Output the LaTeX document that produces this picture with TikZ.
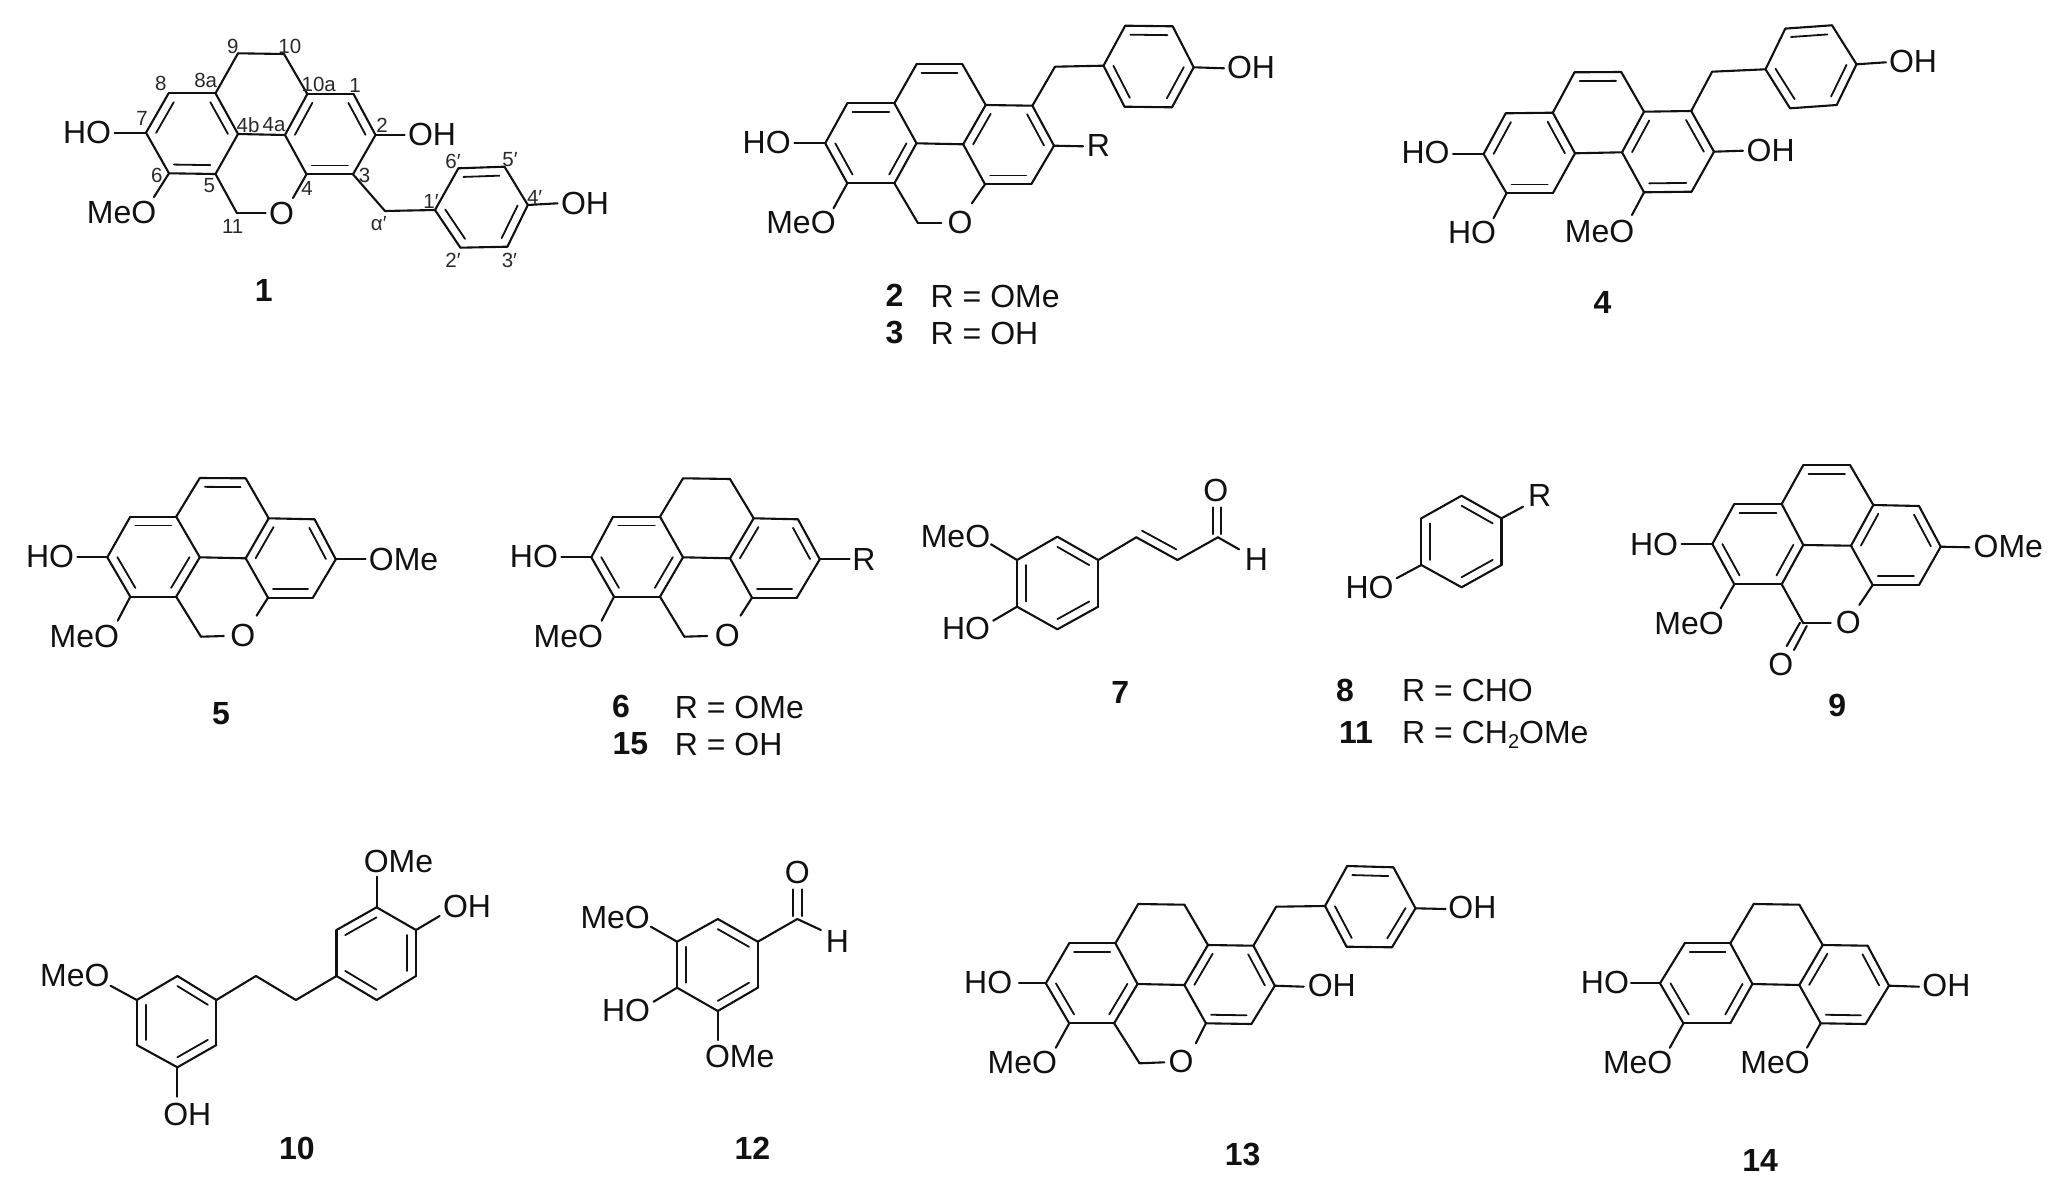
\documentclass[tikz,border=0pt]{standalone}
\usepackage{fontspec}
\setmainfont{Liberation Sans}
\usetikzlibrary{calc}
\definecolor{ink}{HTML}{111111}
\tikzset{
  bond/.style={draw=ink,line width=2.1pt,line cap=round,line join=round},
  innerbond/.style={draw=ink,line width=1.8pt,line cap=round},
  lab/.style={inner sep=0pt,text=ink,font=\fontsize{32}{32}\selectfont},
  sml/.style={inner sep=0pt,text=ink!90,font=\fontsize{20.5}{20.5}\selectfont},
  cnum/.style={inner sep=0pt,text=ink,font=\fontsize{32}{32}\selectfont\bfseries},
  rtxt/.style={inner sep=0pt,anchor=base west,text=ink,font=\fontsize{32}{32}\selectfont}
}
\newcommand{\atoms}[2]{\foreach \n/\xx/\yy in {#2}{\coordinate (#1\n) at (\xx,\yy);}}
\newcommand{\bonds}[2]{\foreach \u/\v in {#2}{\draw[bond] (#1\u) -- (#1\v);}}
\newcommand{\dbls}[4]{\coordinate (ctr) at ($(#1#2)!.5!(#1#3)$);
  \foreach \u/\v in {#4}{\draw[innerbond] ($(#1\u)!.22!(ctr)$) -- ($(#1\v)!.22!(ctr)$);}}
% fused tetracyclic skeleton; #2: double bonds of ring A
\newcommand{\skel}[2]{\bonds{#1}{a1/a2,a2/a3,a3/a4,a4/a5,a5/a6,a6/a1,a2/t1,t1/t2,t2/c1,c1/c2,c2/c3,c3/c4,c4/c5,c5/c6,c6/c1,a3/c6}
  \dbls{#1}{a1}{a4}{#2}\dbls{#1}{c1}{c4}{c1/c6,c2/c3,c4/c5}}
\newcommand{\benz}[1]{\bonds{#1}{r1/r2,r2/r3,r3/r4,r4/r5,r5/r6,r6/r1}\dbls{#1}{r1}{r4}{r1/r2,r3/r4,r5/r6}}
\begin{document}
\begin{tikzpicture}[x=1pt,y=-1pt]
\useasboundingbox (0,0) rectangle (2058,1185);
% ---------- 1
\atoms{A}{a1/168.6/93.3,a2/215.5/93.3,a3/238/134,a4/215.5/174,a5/169/173.3,a6/146/132.7,t1/238/53.3,t2/284/54,c1/307.3/94,c2/353.5/94,c3/375.5/135,c4/353/174.3,c5/306.5/174.3,c6/285/135,k/237/213.3,ke/265.7/213.3,oe/293/198,m/385/211,r1/435/210,r2/460.4/247.7,r3/507.4/246.7,r4/527.8/205,r5/504.5/166.7,r6/458.4/168.3,e1/557.6/203.3,e2/404.5/135,e3/114.7/132.7,e4/154/197}
\skel{A}{a1/a6,a2/a3,a4/a5}
\benz{A}
\bonds{A}{a4/k,k/ke,c5/oe,c4/m,m/r1,r4/e1,c3/e2,a6/e3,a5/e4}
\node[lab] (A1) at (585,203) {OH};
\node[lab] (A2) at (432,134) {OH};
\node[lab] (A3) at (87,132) {HO};
\node[lab] (A4) at (121.6,212.3) {MeO};
\node[lab] (A5) at (281.6,213.3) {O};
\node[cnum] (A6) at (263.7,290) {1};
\node[sml] (n9) at (232.7,46.7) {9};
\node[sml] (n10) at (289.8,46) {10};
\node[sml] (n8) at (160.8,83.3) {8};
\node[sml] (n8a) at (205.7,80) {8a};
\node[sml] (n10a) at (318.8,84.3) {10a};
\node[sml] (n1) at (355,85) {1};
\node[sml] (n7) at (142,118.3) {7};
\node[sml] (n4b) at (248,125) {4b};
\node[sml] (n4a) at (274,125) {4a};
\node[sml] (n2) at (382,125) {2};
\node[sml] (n6) at (156.7,175.7) {6};
\node[sml] (n5) at (209.4,185.7) {5};
\node[sml] (n3) at (364.5,175) {3};
\node[sml] (n4) at (307,188) {4};
\node[sml] (n11) at (232.7,226.7) {11};
\node[sml] (nal) at (378.8,223.3) {α′};
\node[sml] (n1p) at (431,201.7) {1′};
\node[sml] (n6p) at (453,161.7) {6′};
\node[sml] (n5p) at (510,160) {5′};
\node[sml] (n4p) at (534.7,197.3) {4′};
\node[sml] (n2p) at (453,260) {2′};
\node[sml] (n3p) at (509.4,260) {3′};
% ---------- 2/3
\atoms{B}{a1/847.3/103.3,a2/894.4/103.3,a3/916.5/143.3,a4/894.4/183.3,a5/847.3/183.3,a6/825.2/143.3,t1/916.5/64.3,t2/962.4/64.3,c1/985.7/105,c2/1032.4/105.7,c3/1054/145.7,c4/1031.2/184.3,c5/985/184.3,c6/963.2/144.3,k/917.7/222.7,ke/941.4/222.7,oe/971.9/203.3,m/1055/66.7,r1/1103.5/65.7,r2/1124.5/106.7,r3/1172/107.3,r4/1193.7/67.3,r5/1172.7/26.3,r6/1125.2/25.7,e1/1224/68.3,e2/1083/146.3,e3/794.3/143.3,e4/833.5/208.3}
\skel{B}{a1/a2,a3/a4,a5/a6}
\dbls{B}{t1}{c6}{t1/t2}
\benz{B}
\bonds{B}{a4/k,k/ke,c5/oe,c2/m,m/r1,r4/e1,c3/e2,a6/e3,a5/e4}
\node[lab] (B1) at (1251,67.7) {OH};
\node[lab] (B2) at (1098.4,145.7) {R};
\node[lab] (B3) at (766.7,142.7) {HO};
\node[lab] (B4) at (801,222.3) {MeO};
\node[lab] (B5) at (960,222.3) {O};
\node[cnum] (B6) at (894.4,295.7) {2};
\node[rtxt] (B7) at (930.5,307) {R = OMe};
\node[cnum] (B8) at (894.4,332.7) {3};
\node[rtxt] (B9) at (930.5,344) {R = OH};
% ---------- 4
\atoms{C}{a1/1505.7/113.3,a2/1552.8/112.7,a3/1575/153.3,a4/1552.8/193.3,a5/1506.5/193.3,a6/1483.6/154,t1/1574.5/72.3,t2/1621.2/72,c1/1644/111.7,c2/1691.2/111,c3/1714/151.7,c4/1691.6/191.7,c5/1644/192.3,c6/1622/152.3,m/1712.1/71.7,r1/1765.5/69.3,r2/1790/108.3,r3/1836.7/105,r4/1856.5/64.3,r5/1832/25.3,r6/1785.3/28.6,e1/1886/62.3,e2/1743/150.7,e3/1453/154,e4/1493.5/218.3,e5/1632/215}
\skel{C}{a1/a6,a2/a3,a4/a5}
\dbls{C}{t1}{c6}{t1/t2}
\benz{C}
\bonds{C}{c2/m,m/r1,r4/e1,c3/e2,a6/e3,a5/e4,c5/e5}
\node[lab] (C1) at (1913,61) {OH};
\node[lab] (C2) at (1770.7,150) {OH};
\node[lab] (C3) at (1425.5,152.7) {HO};
\node[lab] (C4) at (1472,232.3) {HO};
\node[lab] (C5) at (1599.5,231) {MeO};
\node[cnum] (C6) at (1602.6,302.3) {4};
% ---------- 5
\atoms{D}{a1/130.3/516.7,a2/176.2/516.7,a3/199.8/557.3,a4/176.2/596.7,a5/130.3/596.7,a6/107.3/557.3,t1/199.8/478,t2/245.7/478.3,c1/268.7/518.3,c2/314.6/519.3,c3/335.8/559.3,c4/312.9/597.7,c5/268/597.7,c6/245.7/558.3,k/201/636.7,ke/223.9/636,oe/256.6/615.7,e1/365.7/559.3,e3/77.5/557.3,e4/117.7/620.7}
\skel{D}{a1/a2,a3/a4,a5/a6}
\dbls{D}{t1}{c6}{t1/t2}
\bonds{D}{a4/k,k/ke,c5/oe,c3/e1,a6/e3,a5/e4}
\node[lab] (D1) at (403.6,559.3) {OMe};
\node[lab] (D2) at (50,556.7) {HO};
\node[lab] (D3) at (84.4,636) {MeO};
\node[lab] (D4) at (242.8,635.7) {O};
\node[cnum] (D5) at (221,713.3) {5};
% ---------- 6/15
\atoms{E}{a1/613/516.7,a2/660/516.7,a3/683/557.3,a4/660/596.7,a5/614/596.7,a6/591.3/557.3,t1/683/478.3,t2/730/479,c1/753.7/518.3,c2/798/519.3,c3/819.8/559.3,c4/796.8/597.7,c5/752/597.7,c6/730/558.3,k/684.3/636.7,ke/707.2/636,oe/740.5/615.7,e1/849.6/559.3,e3/561.4/557.3,e4/601.6/620.7}
\skel{E}{a1/a2,a3/a4,a5/a6}
\bonds{E}{a4/k,k/ke,c5/oe,c3/e1,a6/e3,a5/e4}
\node[lab] (E1) at (864,559.3) {R};
\node[lab] (E2) at (533.9,556.7) {HO};
\node[lab] (E3) at (568.3,636) {MeO};
\node[lab] (E4) at (727.3,635.7) {O};
\node[cnum] (E5) at (621,706.7) {6};
\node[rtxt] (E6) at (674.7,718) {R = OMe};
\node[cnum] (E7) at (630.3,744) {15};
\node[rtxt] (E8) at (674.7,755.3) {R = OH};
% ---------- 7
\atoms{F}{r1/1057.4/536.7,r2/1098.2/560,r3/1098.2/606.7,r4/1057.4/629.3,r5/1017/606.7,r6/1017/560,v1/1136.3/537.3,v2/1177.5/560,v3/1217.9/537.3,w1/1142/530.7,w2/1176.2/549.3,o1/1213.1/507.3,o2/1213.1/534,o3/1221.3/507.3,o4/1221.3/534,e1/1239/549.3,e2/991/544.3,e3/993.2/620.7}
\bonds{F}{r1/r2,r2/r3,r3/r4,r4/r5,r5/r6,r6/r1,r2/v1,v1/v2,v2/v3,v3/e1,o1/o2,o3/o4,r6/e2,r5/e3}
\dbls{F}{r1}{r4}{r1/r2,r3/r4,r5/r6}
\draw[innerbond] (Fw1) -- (Fw2);
\node[lab] (F1) at (1215.7,490.7) {O};
\node[lab] (F2) at (1256.5,559.3) {H};
\node[lab] (F3) at (955.5,536) {MeO};
\node[lab] (F4) at (966,628.3) {HO};
\node[cnum] (F5) at (1120.3,692.7) {7};
% ---------- 8/11
\atoms{G}{r1/1461.6/495.7,r2/1501.5/518.3,r3/1501.5/565,r4/1461.6/587.3,r5/1421.3/565,r6/1421.3/518.3,e1/1523/506.7,e2/1396.5/578.3}
\bonds{G}{r1/r2,r2/r3,r3/r4,r4/r5,r5/r6,r6/r1,r2/e1,r5/e2}
\dbls{G}{r1}{r4}{r1/r2,r3/r4,r5/r6}
\node[lab] (G1) at (1539.6,495) {R};
\node[lab] (G2) at (1369.6,587.3) {HO};
\node[cnum] (G3) at (1345,690) {8};
\node[rtxt] (G4) at (1402,701.3) {R = CHO};
\node[cnum] (G5) at (1356,732.3) {11};
\node[rtxt] (G6) at (1402,743.6) {R = CH\raisebox{-5pt}{\fontsize{20}{20}\selectfont 2}OMe};
% ---------- 9
\atoms{H}{a1/1734.3/504,a2/1781.7/504,a3/1803.3/545,a4/1781.7/584.3,a5/1734.3/584.3,a6/1712.3/544,t1/1803.3/465,t2/1850/465,c1/1873.3/505,c2/1919/506,c3/1940.7/546.7,c4/1919/585,c5/1872.7/585,c6/1851/545.7,k/1803.3/623.3,ke/1830.7/623.3,oe/1859.3/605,q1/1800/622.7,q2/1786.7/646,q3/1806.7/626,q4/1794/650,e1/1681.7/544,e2/1969.3/547.3,e3/1720.7/608.3}
\skel{H}{a1/a2,a3/a4,a5/a6}
\dbls{H}{t1}{c6}{t1/t2}
\bonds{H}{a4/k,k/ke,c5/oe,q1/q2,q3/q4,a6/e1,c3/e2,a5/e3}
\node[lab] (H1) at (1848.3,622.7) {O};
\node[lab] (H2) at (1780.7,664) {O};
\node[lab] (H3) at (1654,544) {HO};
\node[lab] (H4) at (2008.3,546.7) {OMe};
\node[lab] (H5) at (1689,623.3) {MeO};
\node[cnum] (H6) at (1837.3,705.7) {9};
% ---------- 10
\atoms{I}{r1/177.4/976,r2/216.4/1000,r3/216.4/1045,r4/177.4/1067.3,r5/136.8/1045,r6/136.8/1000,v1/255.9/976,v2/295.9/1000,s1/336.5/976,s2/336.5/930,s3/376.6/907.3,s4/416/930,s5/416/976,s6/376.6/1000,e1/376.6/876.7,e2/439.6/916,e3/110.5/985.7,e4/177.4/1096.7}
\bonds{I}{r1/r2,r2/r3,r3/r4,r4/r5,r5/r6,r6/r1,r2/v1,v1/v2,v2/s1,s1/s2,s2/s3,s3/s4,s4/s5,s5/s6,s6/s1,s3/e1,s4/e2,r6/e3,r4/e4}
\dbls{I}{r1}{r4}{r1/r2,r3/r4,r5/r6}
\dbls{I}{s1}{s4}{s2/s3,s4/s5,s6/s1}
\node[lab] (I1) at (398.5,861.7) {OMe};
\node[lab] (I2) at (467,906) {OH};
\node[lab] (I3) at (74.9,975.7) {MeO};
\node[lab] (I4) at (187.3,1114) {OH};
\node[cnum] (I5) at (297,1148.3) {10};
% ---------- 12
\atoms{J}{r1/717.8/919,r2/757.8/941.7,r3/757.8/987.7,r4/717.8/1011,r5/677.1/987.7,r6/677.1/941.7,v1/797.3/919,o1/793.4/889.3,o2/793.4/916,o3/801.7/889.3,o4/801.7/916,e1/820.9/930,e2/650.8/926.7,e3/653.6/1001.7,e4/717.8/1040}
\bonds{J}{r1/r2,r2/r3,r3/r4,r4/r5,r5/r6,r6/r1,r2/v1,v1/e1,o1/o2,o3/o4,r6/e2,r5/e3,r4/e4}
\dbls{J}{r1}{r4}{r1/r2,r3/r4,r5/r6}
\node[lab] (J1) at (797.3,872.3) {O};
\node[lab] (J2) at (837.3,941.7) {H};
\node[lab] (J3) at (615.2,917.3) {MeO};
\node[lab] (J4) at (626,1010) {HO};
\node[lab] (J5) at (739.7,1056.7) {OMe};
\node[cnum] (J6) at (752.3,1148.3) {12};
% ---------- 13
\atoms{K}{a1/1069.2/943.3,a2/1115.4/943.3,a3/1137.5/984,a4/1114.1/1023.3,a5/1069.2/1023.3,a6/1045.8/983.3,t1/1138.2/904,t2/1184.4/904.7,c1/1207.9/945,c2/1253.4/945.7,c3/1274.8/985.7,c4/1251.4/1024,c5/1205.9/1023.3,c6/1184.4/985,k/1139.6/1063.3,ke/1164.3/1062.3,oe/1195.8/1043.3,m/1276.2/906.7,r1/1325/906,r2/1346.5/946.7,r3/1392/947.3,r4/1415.5/908.3,r5/1393.4/867.3,r6/1347.2/866,e1/1445.6/909,e2/1303.7/986.7,e3/1019/983.3,e4/1055.8/1047.7}
\skel{K}{a1/a2,a3/a4,a5/a6}
\benz{K}
\bonds{K}{a4/k,k/ke,c5/oe,c2/m,m/r1,r4/e1,c3/e2,a6/e3,a5/e4}
\node[lab] (K1) at (1472.4,907.3) {OH};
\node[lab] (K2) at (1331.8,985.7) {OH};
\node[lab] (K3) at (988.2,982.3) {HO};
\node[lab] (K4) at (1022.3,1062.7) {MeO};
\node[lab] (K5) at (1181,1061.7) {O};
\node[cnum] (K6) at (1242.7,1154.3) {13};
% ---------- 14
\atoms{L}{a1/1684.7/943.3,a2/1730.3/943.3,a3/1752.4/984,a4/1730.3/1023.3,a5/1683.4/1023.3,a6/1660/983.3,t1/1753.7/904,t2/1799.3/904.7,c1/1822.7/945,c2/1867.6/945.7,c3/1889/985.7,c4/1865.6/1024,c5/1820.7/1023.3,c6/1799.3/985,e1/1919/986.7,e2/1631/983.3,e3/1669.8/1047.7,e4/1807/1047.7}
\skel{L}{a1/a2,a3/a4,a5/a6}
\bonds{L}{c3/e1,a6/e2,a5/e3,c5/e4}
\node[lab] (L1) at (1946.4,985.7) {OH};
\node[lab] (L2) at (1604.9,982.3) {HO};
\node[lab] (L3) at (1637.7,1062.7) {MeO};
\node[lab] (L4) at (1775,1062.7) {MeO};
\node[cnum] (L5) at (1760.2,1160.7) {14};
\end{tikzpicture}
\end{document}
